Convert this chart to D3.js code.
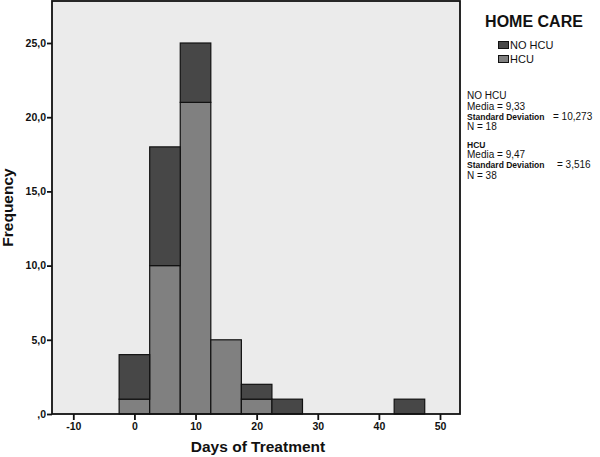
<!DOCTYPE html>
<html><head><meta charset="utf-8">
<script src="https://cdn.jsdelivr.net/npm/d3@7"></script>
<style>body{margin:0;background:#fff}svg{display:block}text{font-family:"Liberation Sans",Arial,sans-serif}</style>
</head><body><svg id="c" width="600" height="457"></svg>
<script>
const binCenters = [0, 5, 10, 15, 20, 25, 45];
const binWidth = 5;
const noHcu = [3, 8, 4, 0, 1, 1, 1];
const hcu = [1, 10, 21, 5, 1, 0, 0];
const seriesNames = ["NO HCU", "HCU"];
const xTicks = [-10, 0, 10, 20, 30, 40, 50];
const xTickLabels = ["-10", "0", "10", "20", "30", "40", "50"];
const yTicks = [0, 5, 10, 15, 20, 25];
const yTickLabels = [",0", "5,0", "10,0", "15,0", "20,0", "25,0"];
const statsNoHcu = ["NO HCU", "Media = 9,33", "Standard Deviation", "= 10,273", "N = 18"];
const statsHcu = ["HCU", "Media = 9,47", "Standard Deviation", "= 3,516", "N = 38"];
const colors = {"NO HCU": "#474747", "HCU": "#808080"};

const svg = d3.select("#c");
const L = 52, R = 460, T = 1, B = 414;
const x = d3.scaleLinear().domain([-10, 50]).range([73.3, 440]);
const y = d3.scaleLinear().domain([0, 25]).range([414, 43]);

svg.append("rect").attr("x", L).attr("y", T).attr("width", R - L).attr("height", B - T)
  .attr("fill", "#ebebeb");

const rows = binCenters.map((c, i) => ({c, HCU: hcu[i], "NO HCU": noHcu[i]}));
const stack = d3.stack().keys(["HCU", "NO HCU"])(rows);
stack.forEach(layer => {
  svg.append("g").selectAll("rect").data(layer.filter(d => d[1] > d[0])).join("rect")
    .attr("x", d => x(d.data.c - binWidth / 2))
    .attr("width", d => x(d.data.c + binWidth / 2) - x(d.data.c - binWidth / 2))
    .attr("y", d => y(d[1]))
    .attr("height", d => y(d[0]) - y(d[1]))
    .attr("fill", colors[layer.key])
    .attr("stroke", "#111").attr("stroke-width", 1.2);
});

// frame
svg.append("rect").attr("x", L).attr("y", T).attr("width", R - L).attr("height", B - T)
  .attr("fill", "none").attr("stroke", "#111").attr("stroke-width", 1.8);

const yAxis = d3.axisLeft(y).tickValues(yTicks).tickSize(5).tickPadding(1)
  .tickFormat((d, i) => yTickLabels[i]);
const gy = svg.append("g").attr("transform", `translate(${L},0)`).call(yAxis);
gy.select(".domain").remove();
gy.selectAll("line").attr("stroke", "#111").attr("stroke-width", 1.8);
gy.selectAll("text").attr("font-size", 10.5).attr("font-weight", "bold").attr("fill", "#111")
  .attr("font-family", '"Liberation Sans",Arial,sans-serif');

const xAxis = d3.axisBottom(x).tickValues(xTicks).tickSize(6).tickPadding(3)
  .tickFormat((d, i) => xTickLabels[i]);
const gx = svg.append("g").attr("transform", `translate(0,${B})`).call(xAxis);
gx.select(".domain").remove();
gx.selectAll("line").attr("stroke", "#111").attr("stroke-width", 1.8);
gx.selectAll("text").attr("font-size", 10.5).attr("font-weight", "bold").attr("fill", "#111")
  .attr("font-family", '"Liberation Sans",Arial,sans-serif');

svg.append("text").attr("x", (L + R) / 2 + 2).attr("y", 452).attr("text-anchor", "middle")
  .attr("font-size", 15.5).attr("font-weight", "bold").attr("fill", "#111").text("Days of Treatment");
svg.append("text").attr("transform", `translate(13,${(T + B) / 2}) rotate(-90)`).attr("text-anchor", "middle")
  .attr("font-size", 15.5).attr("font-weight", "bold").attr("fill", "#111").text("Frequency");

// legend
svg.append("text").attr("x", 534).attr("y", 27).attr("text-anchor", "middle")
  .attr("font-size", 16).attr("font-weight", "bold").attr("fill", "#111").text("HOME CARE");
seriesNames.forEach((s, i) => {
  svg.append("rect").attr("x", 498.5).attr("y", 41.5 + i * 14).attr("width", 10).attr("height", 7)
    .attr("fill", colors[s]).attr("stroke", "#111").attr("stroke-width", 1);
  svg.append("text").attr("x", 510).attr("y", 48.5 + i * 14).attr("font-size", 11).attr("fill", "#111").text(s);
});

// stats
function stats(arr, top, boldHeader) {
  svg.append("text").attr("x", 467).attr("y", top).attr("font-size", boldHeader ? 8.5 : 10)
    .attr("font-weight", boldHeader ? "bold" : "normal").attr("fill", "#111").text(arr[0]);
  svg.append("text").attr("x", 467).attr("y", top + 10.5).attr("font-size", 10).attr("fill", "#111").text(arr[1]);
  svg.append("text").attr("x", 467).attr("y", top + 20.5).attr("font-size", 8.5).attr("font-weight", "bold")
    .attr("fill", "#111").text(arr[2]);
  svg.append("text").attr("x", boldHeader ? 557 : 553).attr("y", top + 20.5).attr("font-size", 10).attr("fill", "#111").text(arr[3]);
  svg.append("text").attr("x", 467).attr("y", top + 31).attr("font-size", 10).attr("fill", "#111").text(arr[4]);
}
stats(statsNoHcu, 99, false);
stats(statsHcu, 147.5, true);
</script></body></html>
